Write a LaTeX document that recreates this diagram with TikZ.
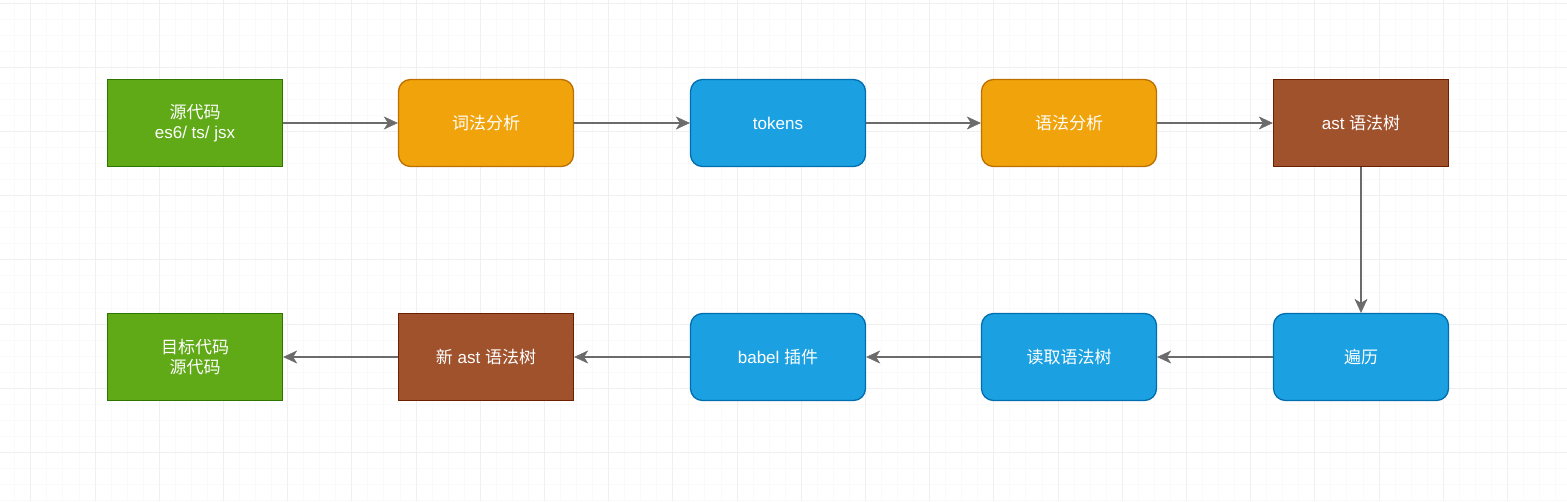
\documentclass[tikz,border=0pt]{standalone}
\usepackage{fontspec}
\setmainfont{Liberation Sans}
\newfontfamily\cjk{Noto Sans CJK SC}
\usetikzlibrary{arrows.meta}
\definecolor{srcfill}{HTML}{60A917}
\definecolor{srcline}{HTML}{2D7600}
\definecolor{stepfill}{HTML}{F0A30A}
\definecolor{stepline}{HTML}{BD7000}
\definecolor{datafill}{HTML}{1BA1E2}
\definecolor{dataline}{HTML}{006EAF}
\definecolor{astfill}{HTML}{A0522D}
\definecolor{astline}{HTML}{6D1F00}
\definecolor{flowgray}{HTML}{6B6B6B}
\definecolor{gridminor}{HTML}{FAFAFA}
\definecolor{gridmajor}{HTML}{F0F0F0}
\begin{document}
\begin{tikzpicture}[x=1pt, y=-1pt,
   box/.style={line width=1.3pt, minimum width=175pt, minimum height=87pt, inner sep=0pt,
               text=white, align=center, font=\fontsize{17}{20}\selectfont},
   srcbox/.style={box, fill=srcfill, draw=srcline},
   stepbox/.style={box, rounded corners=12pt, fill=stepfill, draw=stepline},
   databox/.style={box, rounded corners=12pt, fill=datafill, draw=dataline},
   astbox/.style={box, fill=astfill, draw=astline},
   flow/.style={draw=flowgray, line width=2pt,
                -{Stealth[length=14pt, width=13pt, inset=4pt, line width=0.5pt, fill=flowgray]}}]
   \useasboundingbox[fill=white] (0,0) rectangle (1567,501);
   \begin{scope}
   \clip (0,0) rectangle (1567,501);
   \foreach \gx in {0,...,97} \draw[gridminor, line width=0.8pt] (14.7+16.05*\gx,0) -- (14.7+16.05*\gx,501);
   \foreach \gy in {0,...,31} \draw[gridminor, line width=0.8pt] (0,3+16.05*\gy) -- (1567,3+16.05*\gy);
   \foreach \gx in {0,...,24} \draw[gridmajor, line width=0.8pt] (30.7+64.2*\gx,0) -- (30.7+64.2*\gx,501);
   \foreach \gy in {0,...,7} \draw[gridmajor, line width=0.8pt] (0,3+64.2*\gy) -- (1567,3+64.2*\gy);
   \end{scope}

   \node [srcbox] (src) at (195,123) {{\cjk 源代码}\\es6/ ts/ jsx};
   \node [stepbox] (lexer) at (486,123) {\cjk 词法分析};
   \node [databox] (tokens) at (778,123) {tokens};
   \node [stepbox] (parser) at (1069,123) {\cjk 语法分析};
   \node [astbox] (ast) at (1361,123) {ast {\cjk 语法树}};

   \node [databox] (walk) at (1361,357) {\cjk 遍历};
   \node [databox] (read) at (1069,357) {\cjk 读取语法树};
   \node [databox] (plugin) at (778,357) {babel {\cjk 插件}};
   \node [astbox] (newast) at (486,357) {{\cjk 新} ast {\cjk 语法树}};
   \node [srcbox] (target) at (195,357) {{\cjk 目标代码}\\{\cjk 源代码}};

   \path[flow] (src) edge (lexer)
               (lexer) edge (tokens)
               (tokens) edge (parser)
               (parser) edge (ast)
               (ast) edge (walk)
               (walk) edge (read)
               (read) edge (plugin)
               (plugin) edge (newast)
               (newast) edge (target);
\end{tikzpicture}
\end{document}
